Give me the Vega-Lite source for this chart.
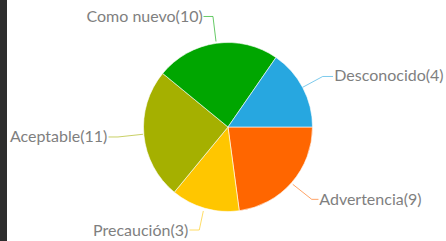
{
  "$schema": "https://vega.github.io/schema/vega-lite/v6.json",
  "width": 439,
  "height": 241,
  "padding": {"left": 7, "top": 0, "right": 0, "bottom": 0},
  "background": "#2d2d2d",
  "view": {"fill": "#ffffff", "stroke": null},
  "datasets": {
    "slices": [
      {"category": "Advertencia", "label": "Advertencia(9)", "count": 9, "share": 22.9, "ord": 1, "lx": 1.080, "ly": -0.864},
      {"category": "Precaución", "label": "Precaución(3)", "count": 3, "share": 13.1, "ord": 2, "lx": -0.470, "ly": -1.231},
      {"category": "Aceptable", "label": "Aceptable(11)", "count": 11, "share": 25.0, "ord": 3, "lx": -1.428, "ly": -0.124},
      {"category": "Como nuevo", "label": "Como nuevo(10)", "count": 10, "share": 23.7, "ord": 4, "lx": -0.299, "ly": 1.302},
      {"category": "Desconocido", "label": "Desconocido(4)", "count": 4, "share": 15.4, "ord": 5, "lx": 1.258, "ly": 0.598}
    ],
    "leaders": [
      {"category": "Como nuevo", "step": 1, "u": -0.290, "v": 1.308},
      {"category": "Como nuevo", "step": 2, "u": -0.178, "v": 1.308},
      {"category": "Como nuevo", "step": 3, "u": -0.142, "v": 1.012},
      {"category": "Desconocido", "step": 1, "u": 1.243, "v": 0.598},
      {"category": "Desconocido", "step": 2, "u": 1.121, "v": 0.598},
      {"category": "Desconocido", "step": 3, "u": 0.884, "v": 0.470},
      {"category": "Aceptable", "step": 1, "u": -1.414, "v": -0.118},
      {"category": "Aceptable", "step": 2, "u": -1.302, "v": -0.118},
      {"category": "Aceptable", "step": 3, "u": -1.006, "v": -0.086},
      {"category": "Advertencia", "step": 1, "u": 1.071, "v": -0.856},
      {"category": "Advertencia", "step": 2, "u": 0.991, "v": -0.856},
      {"category": "Advertencia", "step": 3, "u": 0.766, "v": -0.678},
      {"category": "Precaución", "step": 1, "u": -0.456, "v": -1.219},
      {"category": "Precaución", "step": 2, "u": -0.340, "v": -1.219},
      {"category": "Precaución", "step": 3, "u": -0.292, "v": -0.994}
    ]
  },
  "resolve": {"scale": {"color": "shared", "x": "shared", "y": "shared"}},
  "layer": [
    {
      "data": {"name": "slices"},
      "mark": {"type": "arc", "radius": 84.5, "stroke": "#ffffff", "strokeWidth": 0.6},
      "encoding": {
        "theta": {"field": "share", "type": "quantitative", "stack": true, "scale": {"range": [1.5708, 7.854]}},
        "order": {"field": "ord", "type": "quantitative"},
        "color": {
          "field": "category", "type": "nominal", "legend": null,
          "scale": {
            "domain": ["Desconocido", "Advertencia", "Precaución", "Aceptable", "Como nuevo"],
            "range": ["#27a7e0", "#ff6600", "#ffc600", "#a5b000", "#00a600"]
          }
        },
        "x": {"datum": 0, "type": "quantitative", "scale": {"domain": [-2.6154, 2.5799], "nice": false, "zero": false}, "axis": null},
        "y": {"datum": 0, "type": "quantitative", "scale": {"domain": [-1.3491, 1.503], "nice": false, "zero": false}, "axis": null}
      }
    },
    {
      "data": {"name": "leaders"},
      "mark": {"type": "line", "strokeWidth": 1, "opacity": 0.6},
      "encoding": {
        "x": {"field": "u", "type": "quantitative"},
        "y": {"field": "v", "type": "quantitative"},
        "color": {"field": "category", "type": "nominal", "legend": null},
        "detail": {"field": "category"},
        "order": {"field": "step", "type": "quantitative"}
      }
    },
    {
      "data": {"name": "slices"},
      "transform": [{"filter": "datum.lx < 0"}],
      "mark": {"type": "text", "align": "right", "baseline": "middle", "font": "Lato", "fontSize": 16, "color": "#7f7f7f"},
      "encoding": {
        "x": {"field": "lx", "type": "quantitative"},
        "y": {"field": "ly", "type": "quantitative"},
        "text": {"field": "label"}
      }
    },
    {
      "data": {"name": "slices"},
      "transform": [{"filter": "datum.lx > 0"}],
      "mark": {"type": "text", "align": "left", "baseline": "middle", "font": "Lato", "fontSize": 16, "color": "#7f7f7f"},
      "encoding": {
        "x": {"field": "lx", "type": "quantitative"},
        "y": {"field": "ly", "type": "quantitative"},
        "text": {"field": "label"}
      }
    }
  ]
}
